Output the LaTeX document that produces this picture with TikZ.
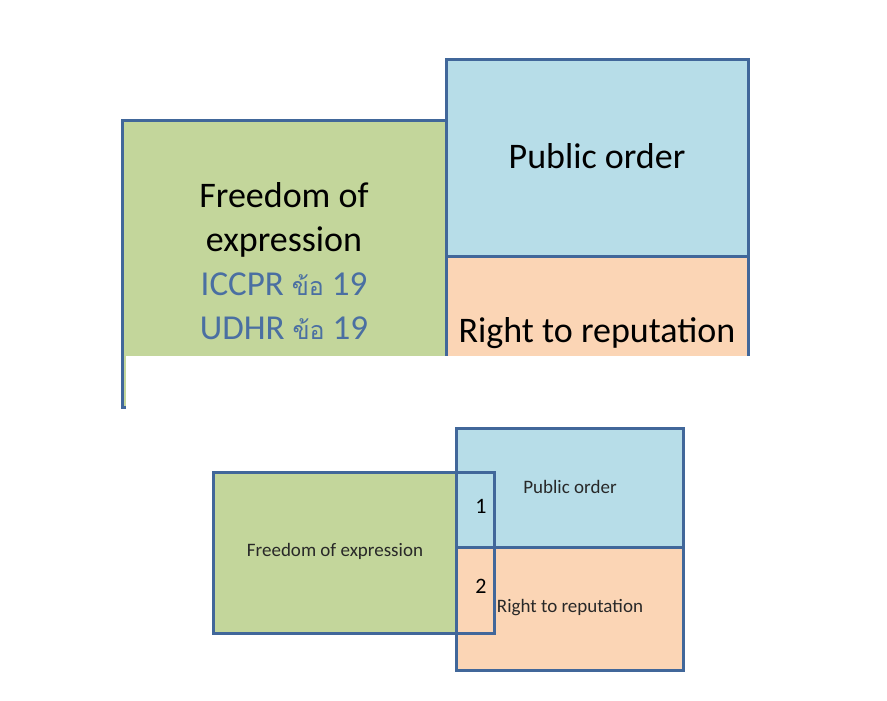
\documentclass[tikz,border=0pt]{standalone}
\usepackage{fontspec}
\setmainfont{Carlito}
\newfontfamily\thaifont[Script=Thai]{Loma}
\definecolor{gfill}{RGB}{195,214,155}
\definecolor{bfill}{RGB}{183,221,232}
\definecolor{ofill}{RGB}{251,213,181}
\definecolor{edge}{RGB}{65,103,154}
\definecolor{reftext}{RGB}{74,111,162}
\definecolor{smalltext}{RGB}{40,40,40}
\newcommand{\thaiword}{{\thaifont\fontsize{25}{30}\selectfont ข้อ}}
\tikzset{
  boxedge/.style={draw=edge, line width=3pt},
  bigtext/.style={font=\fontsize{36}{44}\selectfont, text=black, align=center, inner sep=0pt},
  reftxt/.style={font=\fontsize{35}{43}\selectfont, text=reftext, inner sep=0pt},
  smalltxt/.style={font=\fontsize{19}{22}\selectfont, text=smalltext, inner sep=0pt},
  numtxt/.style={font=\fontsize{22}{24}\selectfont, text=black, inner sep=0pt}
}
\begin{document}
\begin{tikzpicture}[x=1pt,y=-1pt]
\useasboundingbox[fill=white] (0,0) rectangle (887,701);
% ---- top diagram ----
\path[fill=gfill, boxedge] (122,120) rectangle (446,407);
\path[fill=bfill, boxedge] (446,60) rectangle (748,256);
\path[fill=ofill, boxedge] (446,256) rectangle (748,407);
\fill[white] (126,356) rectangle (754,412);
\node[bigtext] (foe) at (284,220) {Freedom of\\expression};
\node[reftxt] (iccpr) at (284,284) {ICCPR \thaiword{} 19};
\node[reftxt] (udhr) at (284,328) {UDHR \thaiword{} 19};
\node[bigtext] (po) at (597,156) {Public order};
\node[bigtext] (rr) at (597,333) {Right to reputation};
% ---- bottom diagram ----
\fill[gfill] (213,472) rectangle (494,633);
\path[fill=bfill, boxedge] (456,428) rectangle (683,547);
\path[fill=ofill, boxedge] (456,547) rectangle (683,670);
\draw[boxedge] (213,472) rectangle (494,633);
\node[smalltxt] (foe2) at (335,551) {Freedom of expression};
\node[smalltxt] (po2) at (570,487) {Public order};
\node[smalltxt] (rr2) at (570,608) {Right to reputation};
\node[numtxt] (n1) at (481,506) {1};
\node[numtxt] (n2) at (481,586) {2};
\end{tikzpicture}
\end{document}
